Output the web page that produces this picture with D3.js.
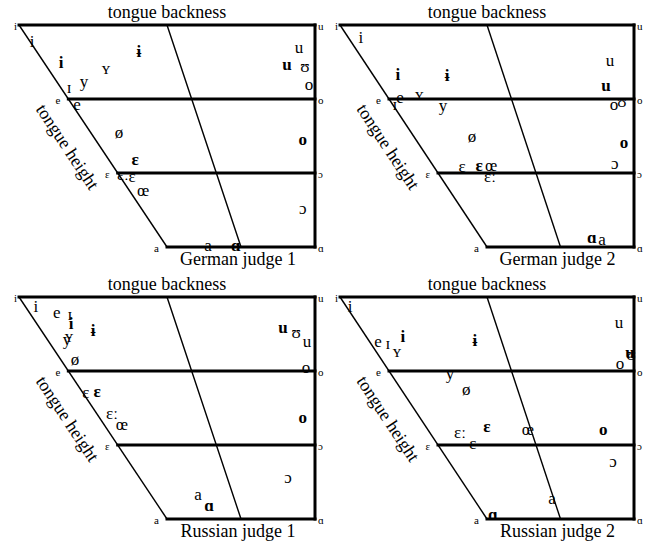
<!DOCTYPE html>
<html>
<head>
<meta charset="utf-8">
<script src="https://cdn.jsdelivr.net/npm/d3@7"></script>
<style>
  body { margin: 0; background: #fff; }
  text { font-family: 'Liberation Serif', 'DejaVu Serif', serif; fill: #000; }
</style>
</head>
<body>
<script>
// Cardinal vowel frame: backness 0 (front) .. 1 (back), height 0 (close) .. 3 (open)
var frontLabels = ['i', 'e', 'ɛ', 'a']
var backLabels = ['u', 'o', 'ɔ', 'ɑ']
var heightLevels = [0, 1, 2, 3]
var panelTitles = ['German judge 1', 'German judge 2', 'Russian judge 1', 'Russian judge 2']

// [symbol, backness, height]
var german1Plain = [
  ['i', 0.044, 0.24], ['ʏ', 0.294, 0.61], ['ɪ', 0.169, 0.86], ['y', 0.22, 0.78],
  ['e', 0.196, 1.09], ['ø', 0.338, 1.47], ['ɛː', 0.351, 2.04], ['ɛ', 0.382, 2.07],
  ['œ', 0.419, 2.26], ['u', 0.946, 0.32], ['ʊ', 0.966, 0.58], ['o', 0.98, 0.82],
  ['ɔ', 0.959, 2.5], ['a', 0.639, 3.0]
]
var german1Bold = [
  ['i', 0.142, 0.53], ['ɨ', 0.405, 0.38], ['ɛ', 0.392, 1.84], ['u', 0.905, 0.55],
  ['o', 0.959, 1.57], ['ɑ', 0.733, 2.99]
]
var german2Plain = [
  ['i', 0.071, 0.18], ['e', 0.204, 1.0], ['ʏ', 0.269, 0.96], ['ɪ', 0.187, 1.09],
  ['y', 0.35, 1.11], ['ø', 0.449, 1.53], ['ɛ', 0.415, 1.93], ['œ', 0.514, 1.91],
  ['ɛː', 0.51, 2.07], ['u', 0.918, 0.49], ['o', 0.932, 1.09], ['ʊ', 0.959, 1.05],
  ['ɔ', 0.935, 1.89], ['a', 0.891, 2.91]
]
var german2Bold = [
  ['i', 0.197, 0.69], ['ɨ', 0.364, 0.7], ['ɛ', 0.473, 1.92], ['u', 0.905, 0.84],
  ['o', 0.966, 1.61], ['ɑ', 0.857, 2.89]
]
var russian1Plain = [
  ['i', 0.057, 0.15], ['e', 0.128, 0.22], ['ɪ', 0.172, 0.26], ['y', 0.162, 0.59],
  ['ʏ', 0.169, 0.55], ['ø', 0.189, 0.86], ['ɛ', 0.226, 1.31], ['ɛː', 0.314, 1.59],
  ['œ', 0.348, 1.74], ['ʊ', 0.936, 0.49], ['u', 0.973, 0.62], ['o', 0.97, 0.97],
  ['ɔ', 0.909, 2.46], ['a', 0.605, 2.69]
]
var russian1Bold = [
  ['i', 0.176, 0.38], ['ɨ', 0.25, 0.47], ['ɛ', 0.264, 1.3], ['u', 0.892, 0.43],
  ['o', 0.959, 1.65], ['ɑ', 0.642, 2.84]
]
var russian2Plain = [
  ['i', 0.034, 0.14], ['e', 0.129, 0.62], ['ɪ', 0.163, 0.64], ['ʏ', 0.194, 0.76],
  ['y', 0.374, 1.05], ['ø', 0.429, 1.27], ['ɛː', 0.408, 1.85], ['ɛ', 0.452, 2.0],
  ['œ', 0.639, 1.81], ['u', 0.949, 0.36], ['ʊ', 0.99, 0.8], ['o', 0.952, 0.91],
  ['ɔ', 0.929, 2.24], ['a', 0.721, 2.74]
]
var russian2Bold = [
  ['i', 0.214, 0.55], ['ɨ', 0.459, 0.61], ['ɛ', 0.5, 1.77], ['u', 0.986, 0.77],
  ['o', 0.895, 1.81], ['ɑ', 0.52, 2.96]
]

var width = 654
var height = 544
var panels = [
  { title: panelTitles[0], plain: german1Plain, bold: german1Bold, x0: 19, x1: 315, y0: 25, y1: 247 },
  { title: panelTitles[1], plain: german2Plain, bold: german2Bold, x0: 340, x1: 634, y0: 25, y1: 247 },
  { title: panelTitles[2], plain: russian1Plain, bold: russian1Bold, x0: 19, x1: 315, y0: 297, y1: 519 },
  { title: panelTitles[3], plain: russian2Plain, bold: russian2Bold, x0: 340, x1: 634, y0: 297, y1: 519 }
]

var svg = d3.select('body').append('svg')
    .attr('width', width)
    .attr('height', height)

// front edge of the chart (backness at a given height)
var frontEdge = d3.scaleLinear().domain([0, 3]).range([0, 0.5])
var centerEdge = d3.scaleLinear().domain([0, 3]).range([0.5, 0.75])

panels.forEach(function (p) {
  var xScale = d3.scaleLinear().domain([0, 1]).range([p.x0, p.x1])
  var yScale = d3.scaleLinear().domain([0, 3]).range([p.y0, p.y1])
  var g = svg.append('g')

  // Thick frame lines
  var thick = [
    [[0, 0], [1, 0]],
    [[1, 0], [1, 3]],
    [[frontEdge(3), 3], [1, 3]],
    [[frontEdge(1), 1], [1, 1]],
    [[frontEdge(2), 2], [1, 2]]
  ]
  g.selectAll('line.thick')
      .data(thick)
      .enter()
    .append('line')
      .attr('class', 'thick')
      .attr('x1', function (d) { return xScale(d[0][0]) })
      .attr('y1', function (d) { return yScale(d[0][1]) })
      .attr('x2', function (d) { return xScale(d[1][0]) })
      .attr('y2', function (d) { return yScale(d[1][1]) })
      .attr('stroke', '#000')
      .attr('stroke-width', 3)
      .attr('stroke-linecap', 'square')

  // Thin lines: front edge and central line
  var thin = [
    [[frontEdge(0), 0], [frontEdge(3), 3]],
    [[centerEdge(0), 0], [centerEdge(3), 3]]
  ]
  g.selectAll('line.thin')
      .data(thin)
      .enter()
    .append('line')
      .attr('class', 'thin')
      .attr('x1', function (d) { return xScale(d[0][0]) })
      .attr('y1', function (d) { return yScale(d[0][1]) })
      .attr('x2', function (d) { return xScale(d[1][0]) })
      .attr('y2', function (d) { return yScale(d[1][1]) })
      .attr('stroke', '#000')
      .attr('stroke-width', 1.4)

  // Corner labels
  g.selectAll('text.front')
      .data(heightLevels)
      .enter()
    .append('text')
      .attr('class', 'front')
      .attr('x', function (d) { return xScale(frontEdge(d)) - (d === 0 ? 2 : 8) })
      .attr('y', function (d) { return yScale(d) + 5 })
      .attr('font-size', 11)
      .style('text-anchor', 'end')
      .text(function (d, i) { return frontLabels[i] })
  g.selectAll('text.back')
      .data(heightLevels)
      .enter()
    .append('text')
      .attr('class', 'back')
      .attr('x', xScale(1) + 3)
      .attr('y', function (d) { return yScale(d) + 5 })
      .attr('font-size', 11)
      .text(function (d, i) { return backLabels[i] })

  // Axis labels
  g.append('text')
      .attr('x', (xScale(0) + xScale(1)) / 2)
      .attr('y', p.y0 - 7)
      .attr('font-size', 18)
      .style('text-anchor', 'middle')
      .text('tongue backness')
  g.append('text')
      .attr('x', (xScale(frontEdge(3)) + xScale(1)) / 2 - 3)
      .attr('y', p.y1 + 18)
      .attr('font-size', 18)
      .style('text-anchor', 'middle')
      .text(p.title)
  var angle = Math.atan2(yScale(3) - yScale(0), xScale(frontEdge(3)) - xScale(0)) * 180 / Math.PI
  g.append('text')
      .attr('transform', 'translate(' + xScale(0.162) + ',' + yScale(1.65) + ') rotate(' + angle + ')')
      .attr('dy', '0.3em')
      .attr('font-size', 18)
      .style('text-anchor', 'middle')
      .text('tongue height')

  // Vowel symbols
  g.selectAll('text.plain')
      .data(p.plain)
      .enter()
    .append('text')
      .attr('class', 'plain')
      .attr('x', function (d) { return xScale(d[1]) })
      .attr('y', function (d) { return yScale(d[2]) })
      .attr('dy', '0.25em')
      .attr('font-size', 17)
      .style('text-anchor', 'middle')
      .text(function (d) { return d[0] })
  g.selectAll('text.bold')
      .data(p.bold)
      .enter()
    .append('text')
      .attr('class', 'bold')
      .attr('x', function (d) { return xScale(d[1]) })
      .attr('y', function (d) { return yScale(d[2]) })
      .attr('dy', '0.25em')
      .attr('font-size', 17)
      .attr('font-weight', 'bold')
      .style('text-anchor', 'middle')
      .text(function (d) { return d[0] })
})
</script>
</body>
</html>
